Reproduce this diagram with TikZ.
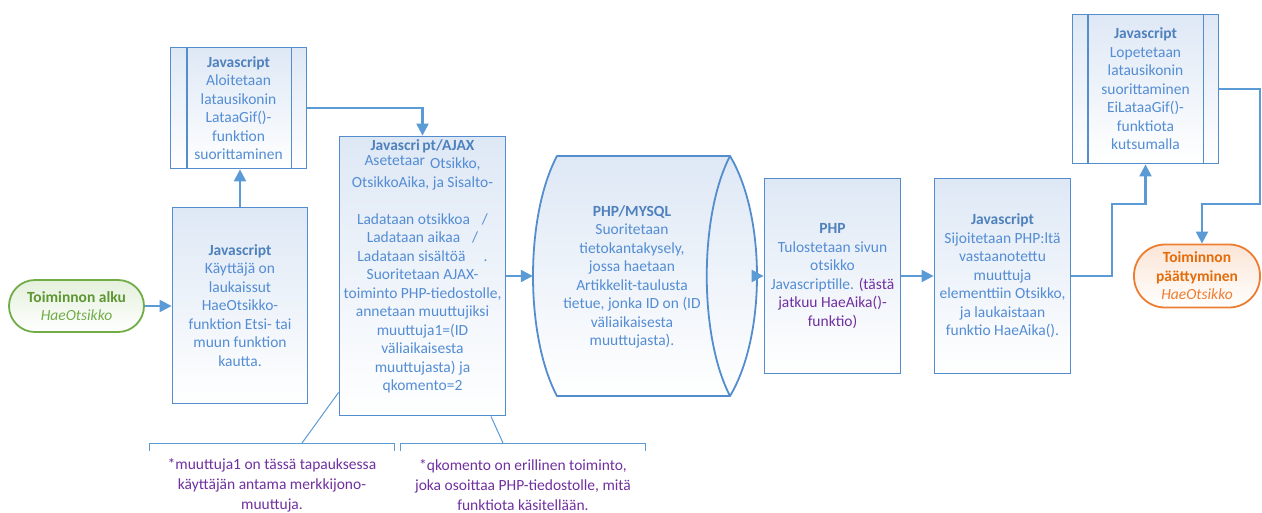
\documentclass[tikz,border=0pt]{standalone}
\usepackage{fontspec}
\setmainfont{Carlito}
\usetikzlibrary{arrows.meta,calc}
\definecolor{bline}{RGB}{91,155,213}
\definecolor{bborder}{RGB}{84,141,205}
\definecolor{btext}{RGB}{84,141,212}
\definecolor{bhead}{RGB}{79,129,189}
\definecolor{bfill}{RGB}{222,232,245}
\definecolor{purp}{RGB}{112,48,160}
\definecolor{gborder}{RGB}{112,173,71}
\definecolor{ghead}{RGB}{94,150,50}
\definecolor{gital}{RGB}{112,173,71}
\definecolor{gfill}{RGB}{228,240,220}
\definecolor{oborder}{RGB}{237,125,49}
\definecolor{ohead}{RGB}{228,108,10}
\definecolor{ofill}{RGB}{251,229,214}
\tikzset{
  txt/.style={font=\fontsize{15.5}{18.5}\selectfont, text=btext, align=center, inner sep=0pt},
  shd/.style={top color=#1, bottom color=white},
  box/.style={txt, draw=bborder, line width=1.8pt, shd=bfill},
  startst/.style={txt, draw=gborder, line width=1.8pt, shd=gfill, rounded corners=26pt},
  endst/.style={txt, draw=oborder, line width=1.8pt, shd=ofill, rounded corners=31pt},
  arr/.style={draw=bline, line width=2.2pt, -{Triangle[length=12pt,width=12pt]}},
  thinl/.style={draw=bline, line width=1pt},
  note/.style={font=\fontsize{15.5}{20}\selectfont, text=purp, align=center, inner sep=0pt}
}
\newcommand{\hdr}[1]{\textcolor{bhead}{\textbf{#1}}}
\begin{document}
\begin{tikzpicture}[x=1pt,y=-1pt]
\useasboundingbox (0,0) rectangle (1262,512);

% start
\node[startst, minimum width=135pt, minimum height=52pt] (start) at (76.5,306)
  {\textcolor{ghead}{\textbf{Toiminnon alku}}\\\textcolor{gital}{\textit{HaeOtsikko}}};

% js1
\node[box, minimum width=135pt, minimum height=196pt] (js1) at (240,305.5)
  {\hdr{Javascript}\\Käyttäjä on\\laukaissut\\HaeOtsikko-\\funktion Etsi- tai\\muun funktion\\kautta.};

% top-left predefined process
\node[box, minimum width=136pt, minimum height=121pt] (tl) at (238.5,108)
  {\hdr{Javascript}\\Aloitetaan\\latausikonin\\LataaGif()-\\funktion\\suorittaminen};
\draw[draw=bborder, line width=1.8pt] ([xshift=17pt]tl.north west) -- ([xshift=17pt]tl.south west);
\draw[draw=bborder, line width=1.8pt] ([xshift=-16pt]tl.north east) -- ([xshift=-16pt]tl.south east);

% ajax
\node[box, minimum width=166pt, minimum height=279pt] (ajax) at (422.5,276) {};
\node[txt, anchor=north] (ajaxt) at (422.5,139)
  {\hdr{Javascri\,pt/AJAX}\\
   \raisebox{3pt}{Asetetaar}\hspace{5pt}Otsikko,\\
   OtsikkoAika, ja Sisalto-\\[18.5pt]
   Ladataan otsikkoa\hspace{12pt}/\\
   Ladataan aikaa\hspace{12pt}/\\
   Ladataan sisältöä\hspace{18pt}.\\
   Suoritetaan AJAX-\\
   toiminto PHP-tiedostolle,\\
   annetaan muuttujiksi\\
   muuttuja1=(ID\\
   väliaikaisesta\\
   muuttujasta) ja\\
   qkomento=2};

% database (horizontal cylinder)
\node[minimum width=224pt, minimum height=240pt, inner sep=0pt] (db) at (645,276) {};
\path[draw=bborder, line width=1.8pt, shd=bfill]
  (557,156) -- (730,156)
  .. controls (766,216) and (766,336) .. (730,396)
  -- (557,396)
  .. controls (525,336) and (525,216) .. (557,156) -- cycle;
\draw[draw=bborder, line width=1.8pt] (730,156) .. controls (699,216) and (699,336) .. (730,396);
\node[txt] (dbt) at (632,277)
  {\hdr{PHP/MYSQL}\\Suoritetaan\\tietokantakysely,\\jossa haetaan\\Artikkelit-taulusta\\tietue, jonka ID on (ID\\väliaikaisesta\\muuttujasta).};

% php
\node[box, minimum width=136pt, minimum height=195pt] (php) at (832.5,276)
  {\hdr{PHP}\\Tulostetaan sivun\\otsikko\\Javascriptille. \textcolor{purp}{(tästä}\\\textcolor{purp}{jatkuu HaeAika()-}\\\textcolor{purp}{funktio)}};

% js2
\node[box, minimum width=136pt, minimum height=195pt] (js2) at (1002.5,276)
  {\hdr{Javascript}\\Sijoitetaan PHP:ltä\\vastaanotettu\\muuttuja\\elementtiin Otsikko,\\ja laukaistaan\\funktio HaeAika().};

% top-right predefined process
\node[box, minimum width=146pt, minimum height=149pt] (tr) at (1145.5,89)
  {\hdr{Javascript}\\Lopetetaan\\latausikonin\\suorittaminen\\EiLataaGif()-\\funktiota\\kutsumalla};
\draw[draw=bborder, line width=1.8pt] ([xshift=16pt]tr.north west) -- ([xshift=16pt]tr.south west);
\draw[draw=bborder, line width=1.8pt] ([xshift=-16pt]tr.north east) -- ([xshift=-16pt]tr.south east);

% end
\node[endst, minimum width=126pt, minimum height=63pt] (end) at (1197,276)
  {\textcolor{ohead}{\textbf{Toiminnon}}\\\textcolor{ohead}{\textbf{päättyminen}}\\\textcolor{oborder}{\textit{HaeOtsikko}}};

% connectors
\draw[arr] (start.east) -- (start.east -| js1.west);
\draw[arr] (js1.north) -- (js1.north |- tl.south);
\draw[arr] (tl.east) -| (ajax.north);
\draw[arr] (ajax.east) -- (db.west);
\draw[arr] (db.east) -- (php.west);
\draw[arr] (php.east) -- (js2.west);
\coordinate (k1) at (1112,204);
\draw[arr] (js2.east) -| (k1) -| (tr.south);
\coordinate (k2) at (1260,204);
\coordinate (k3) at (1202,204);
\draw[arr] (tr.east) -| (k2) -- (k3) -- (k3 |- end.north);

% notes
\node[note] (n1) at (272,485) {*muuttuja1 on tässä tapauksessa\\käyttäjän antama merkkijono-\\muuttuja.};
\node[note] (n2) at (523,485) {*qkomento on erillinen toiminto,\\joka osoittaa PHP-tiedostolle, mitä\\funktiota käsitellään.};
\coordinate (a1) at (302,443);
\coordinate (a2) at (503,443);
\draw[thinl] (149,451) -- (149,443) -- (394,443) -- (394,451);
\draw[thinl] (400,451) -- (400,443) -- (645,443) -- (645,451);
\draw[thinl] (a1) -- ($(ajax.south west)+(0,-24)$);
\draw[thinl] (a2) -- ($(ajax.south)+(68.5,0)$);
\end{tikzpicture}
\end{document}
